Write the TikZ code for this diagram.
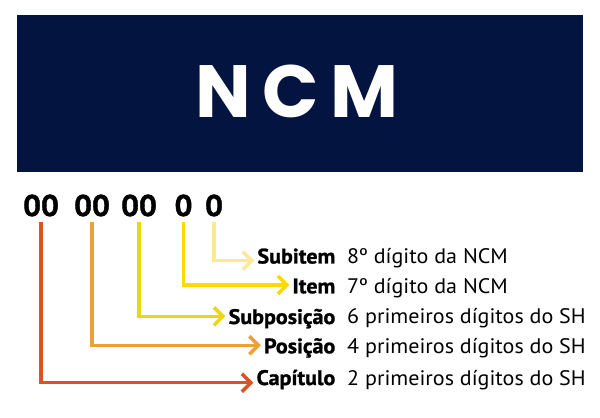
\documentclass[tikz,border=0pt]{standalone}
\usepackage{fontspec}
\setmainfont{PT Sans}[FakeStretch=1.05,BoldFeatures={FakeBold=1.2}]
\newfontfamily\titlefont[LetterSpace=16]{Poppins}
\usetikzlibrary{arrows.meta}
\definecolor{navy}{RGB}{4,20,64}
\definecolor{capcol}{RGB}{220,82,35}
\definecolor{poscol}{RGB}{233,162,58}
\definecolor{subposcol}{RGB}{236,214,16}
\definecolor{itemcol}{RGB}{254,219,0}
\definecolor{subitemcol}{RGB}{252,232,150}

\begin{document}
\begin{tikzpicture}[>={Straight Barb[length=9bp,width=18bp]},
  link/.style={->,line width=3.5bp},
  digit/.style={anchor=base,inner sep=5.5bp,font=\fontsize{30bp}{30bp}\selectfont\bfseries},
  lbl/.style={anchor=base east,inner sep=3bp,font=\fontsize{21bp}{21bp}\selectfont\bfseries},
  desc/.style={anchor=base west,inner sep=0pt,font=\fontsize{21bp}{21bp}\selectfont},
]
\useasboundingbox (0,0) rectangle (600bp,418bp);
%%
\node (banner) at (300bp,324.5bp) [fill=navy,minimum width=566bp,minimum height=157bp,inner sep=0pt] {};
  \node (ncm) at (195bp,326.5bp) [anchor=west,inner sep=0pt,text=white,font=\titlefont\fontsize{74bp}{74bp}\selectfont\bfseries] {NCM};
%% the digits
\node (d1) at (41bp,202bp) [digit] {00};
  \node (d2) at (92bp,202bp) [digit] {00};
  \node (d3) at (139bp,202bp) [digit] {00};
  \node (d4) at (183.5bp,202bp) [digit] {0};
  \node (d5) at (214bp,202bp) [digit] {0};
%% the rows
\node (subitem) at (338.5bp,154.5bp) [lbl] {Subitem};
  \node (subitemd) at (347bp,154.5bp) [desc] {8º dígito da NCM};
  \node (item) at (338.5bp,124.7bp) [lbl] {Item};
  \node (itemd) at (347bp,124.7bp) [desc] {7º dígito da NCM};
  \node (subpos) at (338.5bp,94bp) [lbl] {Subposição};
  \node (subposd) at (347bp,94bp) [desc] {6 primeiros dígitos do SH};
  \node (pos) at (338.5bp,64.7bp) [lbl] {Posição};
  \node (posd) at (347bp,64.7bp) [desc] {4 primeiros dígitos do SH};
  \node (cap) at (338.5bp,33bp) [lbl] {Capítulo};
  \node (capd) at (347bp,33bp) [desc] {2 primeiros dígitos do SH};
%% connectors
\draw [link,capcol] (d1.south) |- ([yshift=2.3bp]cap.base west);
  \draw [link,poscol] (d2.south) |- ([yshift=8bp]pos.base west);
  \draw [link,subposcol] (d3.south) |- ([yshift=7.7bp]subpos.base west);
  \draw [link,itemcol] (d4.south) |- ([yshift=8.3bp]item.base west);
  \draw [link,subitemcol] (d5.south) |- ([yshift=2.8bp]subitem.base west);
%
\end{tikzpicture}
\end{document}
